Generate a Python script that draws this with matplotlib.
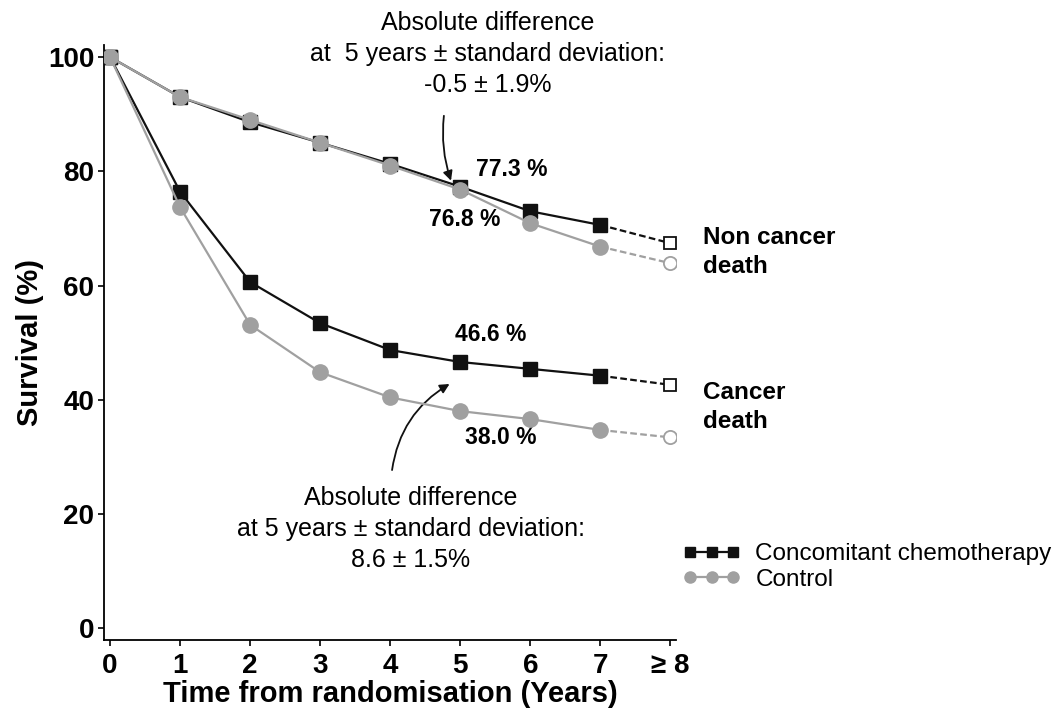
import numpy as np
import matplotlib.pyplot as plt
from matplotlib.lines import Line2D

plt.rcParams['font.family'] = ['Liberation Sans', 'DejaVu Sans']

years = [0, 1, 2, 3, 4, 5, 6, 7, 8]
xtick_labels = ['0', '1', '2', '3', '4', '5', '6', '7', '\u2265 8']

# survival (%)
noncancer_chemo = [100, 93.0, 88.6, 85.0, 81.3, 77.3, 73.0, 70.6, 67.4]
noncancer_ctrl = [100, 93.0, 89.0, 85.0, 81.0, 76.8, 70.9, 66.8, 63.9]
cancer_chemo = [100, 76.4, 60.6, 53.4, 48.7, 46.6, 45.4, 44.2, 42.6]
cancer_ctrl = [100, 73.7, 53.1, 44.8, 40.4, 38.0, 36.6, 34.7, 33.4]

BLACK = '#111111'
GREY = '#a0a0a0'

fig = plt.figure(figsize=(10.62, 7.16), dpi=100)
ax = fig.add_axes([0.098, 0.106, 0.539, 0.831])


def draw(vals, color, marker, ms, lw, z):
    ax.plot(years[:-1], vals[:-1], color=color, lw=lw, marker=marker, ms=ms,
            mec=color, mfc=color, zorder=z)
    ax.plot(years[-2:], vals[-2:], color=color, lw=lw, ls=(0, (3, 1.5)), zorder=z)
    ax.plot(years[-1], vals[-1], marker=marker, ms=ms - 1.5, mfc='white',
            mec=color, mew=1.3, ls='none', zorder=z + 1)


draw(noncancer_chemo, BLACK, 's', 10, 1.6, 3)
draw(noncancer_ctrl, GREY, 'o', 11, 1.6, 4)
draw(cancer_chemo, BLACK, 's', 10, 1.6, 3)
draw(cancer_ctrl, GREY, 'o', 11, 1.6, 4)

ax.set_xlim(-0.086, 8.086)
ax.set_ylim(-2.1, 102.1)
ax.set_xticks(years)
ax.set_xticklabels(xtick_labels)
ax.set_yticks([0, 20, 40, 60, 80, 100])
for s in ['top', 'right']:
    ax.spines[s].set_visible(False)
for s in ['left', 'bottom']:
    ax.spines[s].set_linewidth(1.3)
ax.tick_params(axis='both', labelsize=20, width=1.2, length=4)
ax.tick_params(axis='x', pad=5)
ax.tick_params(axis='y', pad=3)
for lab in ax.get_xticklabels() + ax.get_yticklabels():
    lab.set_fontweight('bold')
ax.set_xlabel('Time from randomisation (Years)', fontsize=21, fontweight='bold', labelpad=1)
ax.set_ylabel('Survival (%)', fontsize=21, fontweight='bold', labelpad=3)

# value labels at 5 years
ax.text(5.73, 80.3, '77.3 %', fontsize=16.5, fontweight='bold', ha='center', va='center')
ax.text(5.06, 71.5, '76.8 %', fontsize=16.5, fontweight='bold', ha='center', va='center')
ax.text(5.43, 51.4, '46.6 %', fontsize=16.5, fontweight='bold', ha='center', va='center')
ax.text(5.57, 33.3, '38.0 %', fontsize=16.5, fontweight='bold', ha='center', va='center')

ax.text(8.47, 65.8, 'Non cancer\ndeath', fontsize=17.5, fontweight='bold',
        ha='left', va='center', linespacing=1.34, clip_on=False)
ax.text(8.47, 38.7, 'Cancer\ndeath', fontsize=17.5, fontweight='bold',
        ha='left', va='center', linespacing=1.34, clip_on=False)

# annotations
ax.text(5.39, 100.5, 'Absolute difference\nat  5 years \u00b1 standard deviation:\n-0.5 \u00b1 1.9%',
        fontsize=18, ha='center', va='center', linespacing=1.36, clip_on=False)
ax.annotate('', xy=(4.88, 77.9), xytext=(4.77, 90.2),
            arrowprops=dict(arrowstyle='-|>', color=BLACK, lw=1.3,
                            connectionstyle='arc3,rad=0.12', mutation_scale=14))
ax.text(4.29, 17.3, 'Absolute difference\nat 5 years \u00b1 standard deviation:\n8.6 \u00b1 1.5%',
        fontsize=18, ha='center', va='center', linespacing=1.36)
ax.annotate('', xy=(4.88, 43.0), xytext=(4.02, 27.2),
            arrowprops=dict(arrowstyle='-|>', color=BLACK, lw=1.3,
                            connectionstyle='arc3,rad=-0.25', mutation_scale=14))

handles = [
    Line2D([], [], color=BLACK, lw=1.6, marker='s', ms=7),
    Line2D([], [], color=GREY, lw=1.6, marker='o', ms=8),
]
fig.legend(handles, ['Concomitant chemotherapy', 'Control'], loc='upper left',
           bbox_to_anchor=(0.622, 0.272), frameon=False, fontsize=17.5,
           numpoints=3, handlelength=2.4, handletextpad=0.6, labelspacing=0.15)

fig.savefig('out.png', dpi=100)
